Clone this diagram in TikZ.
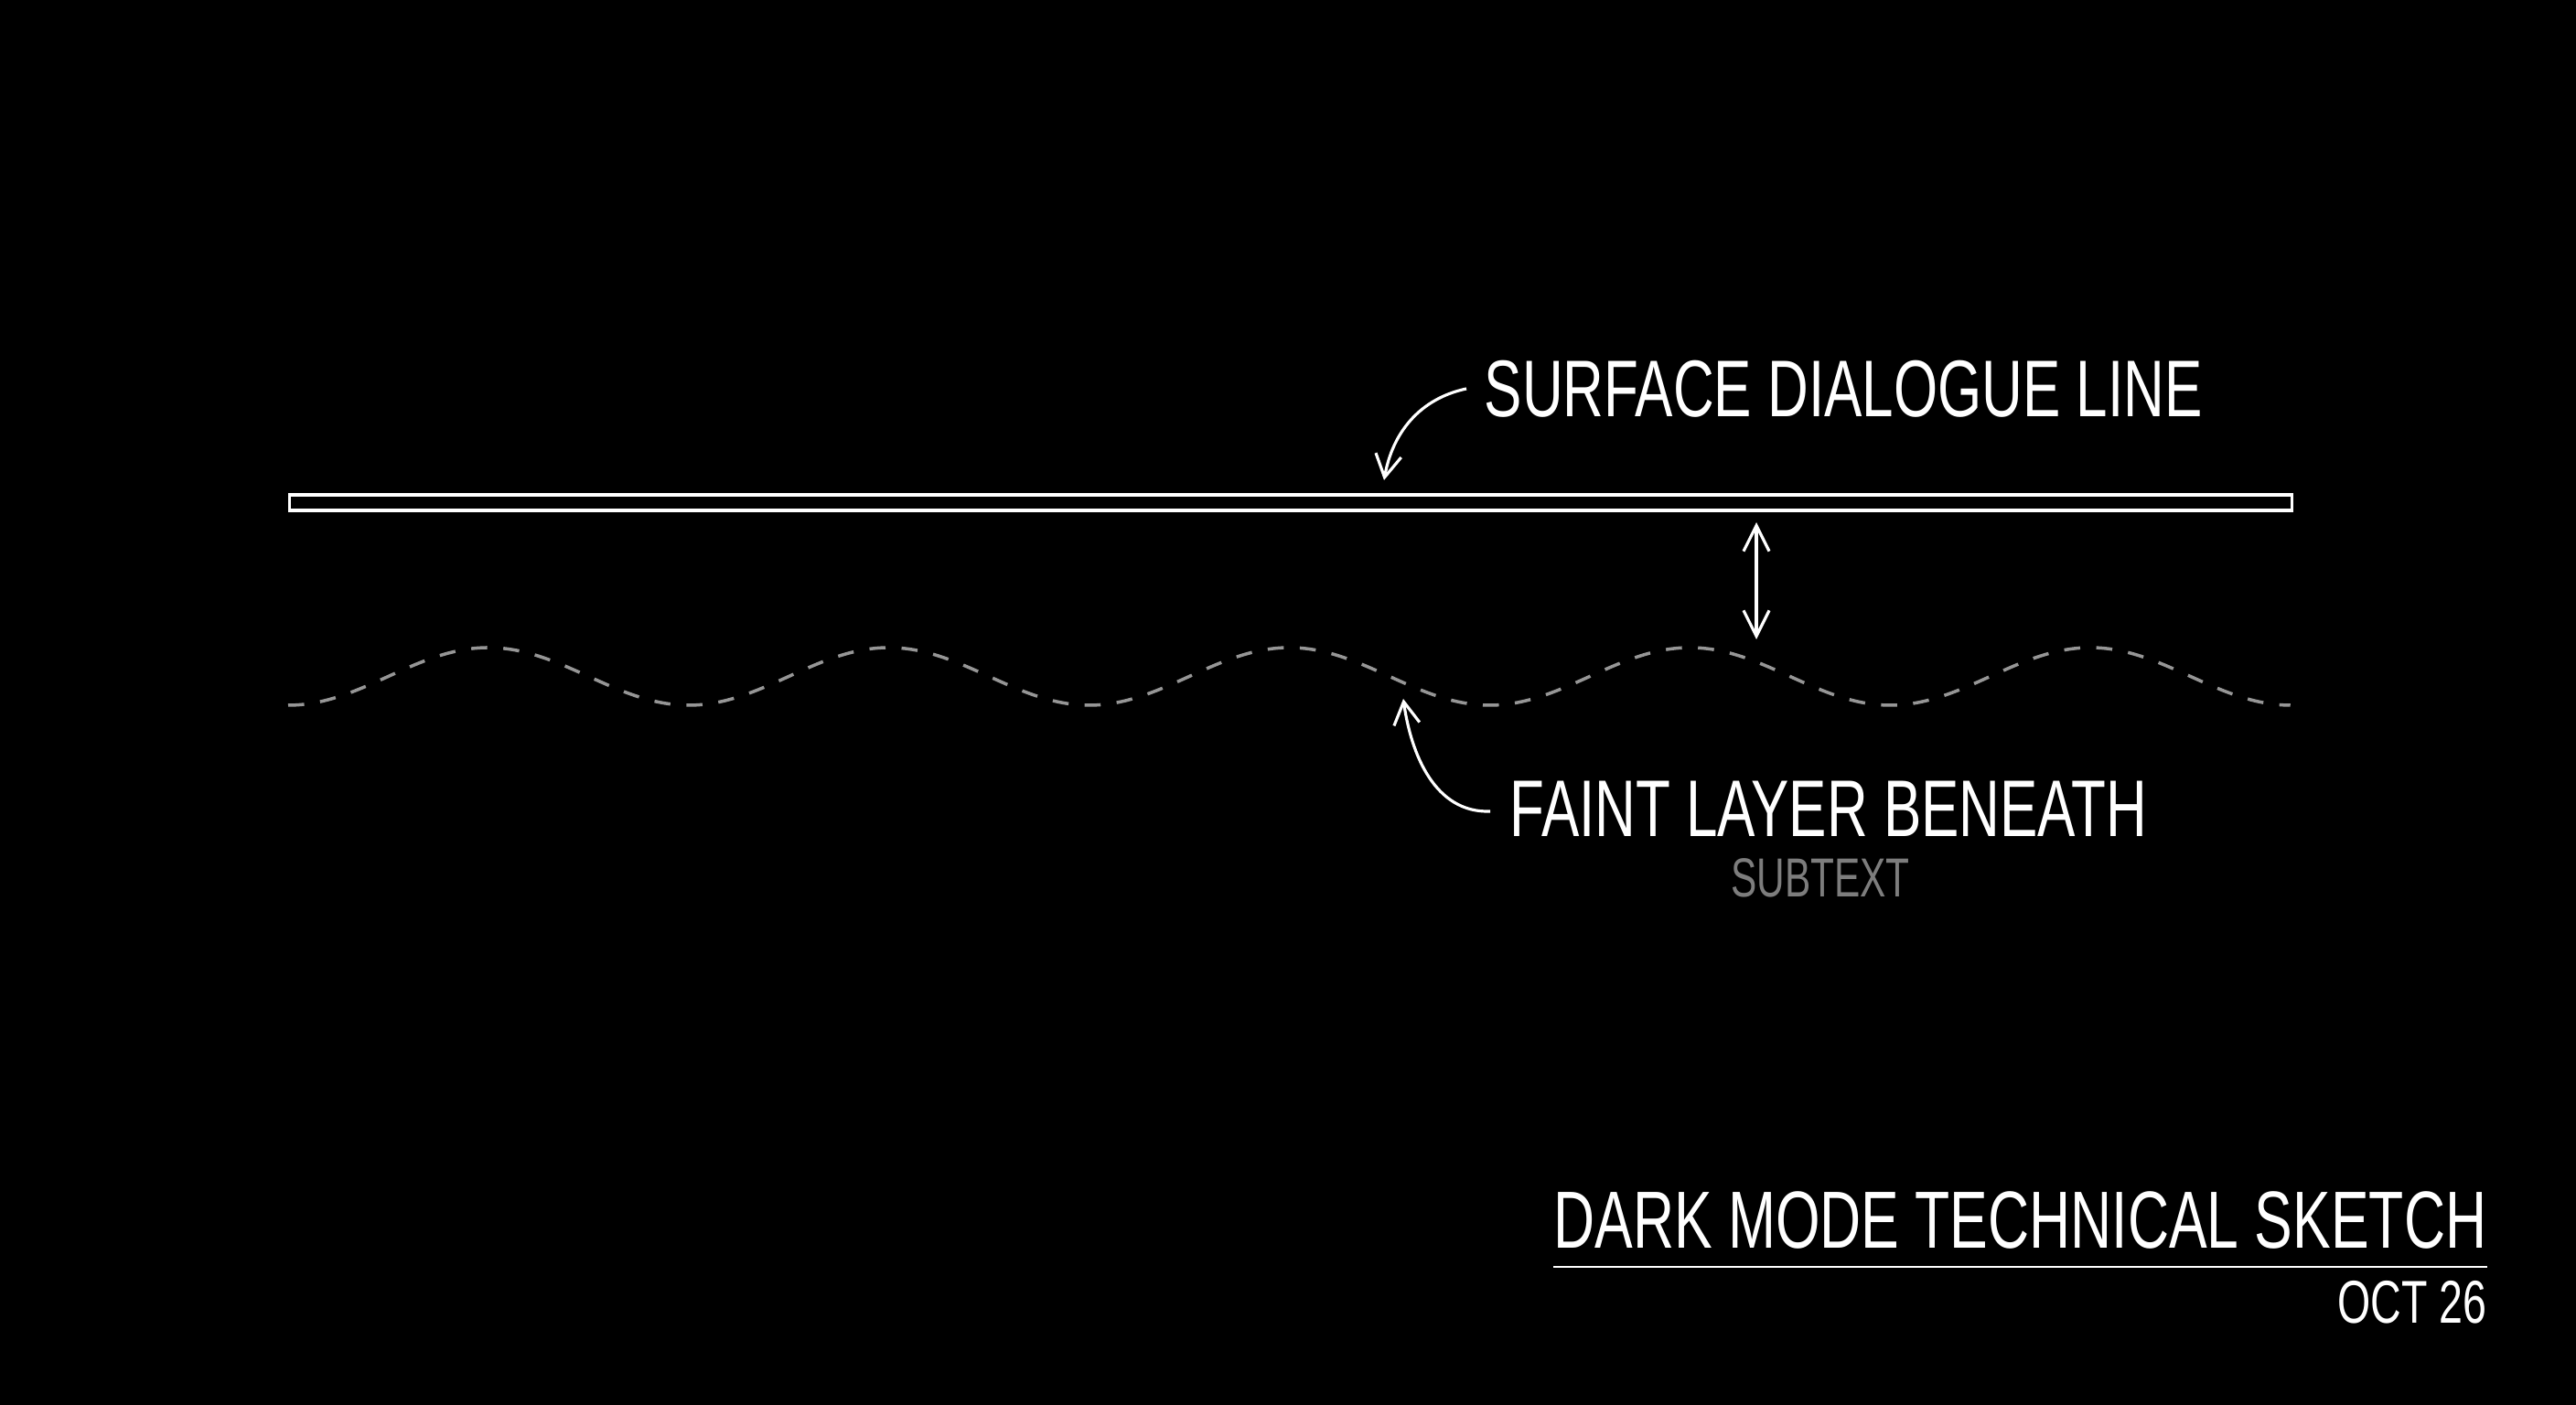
\documentclass[tikz,border=0pt]{standalone}
\usepackage{fontspec}
\setmainfont{Liberation Sans}[FakeStretch=0.705]
\usetikzlibrary{arrows.meta}
\definecolor{wavegray}{RGB}{150,150,150}
\definecolor{subgray}{RGB}{125,125,125}
\begin{document}
\begin{tikzpicture}[
  lbl/.style={text=white, inner sep=0pt, anchor=base west, font=\fontsize{25}{30}\selectfont},
  sublbl/.style={text=subgray, inner sep=0pt, anchor=base, font=\fontsize{17.1}{20}\selectfont},
  datelbl/.style={text=white, inner sep=0pt, anchor=base east, font=\fontsize{18.8}{22}\selectfont},
  titlelbl/.style={text=white, inner sep=0pt, anchor=base east, font=\fontsize{25.2}{30}\selectfont},
  surface/.style={draw=white, line width=0.9pt},
  wave/.style={draw=wavegray, line width=1pt, dash pattern=on 5pt off 5pt},
  pointer/.style={draw=white, line width=0.9pt, -{Straight Barb[length=7pt,width=8pt]}},
  gap/.style={draw=white, line width=0.9pt, {Straight Barb[length=8pt,width=8pt]}-{Straight Barb[length=8pt,width=8pt]}},
  rule/.style={draw=white, line width=0.8pt}
]
\fill[black] (0,0) rectangle (28.16,15.36);
\useasboundingbox (0,0) rectangle (28.16,15.36);

% surface bar
\node[surface, minimum width=21.89cm, minimum height=0.17cm, inner sep=0pt, anchor=north west] (bar) at (3.15,9.965) {};

% faint wave
\draw[wave] plot[domain=3.15:25.04, samples=400, smooth] (\x, {7.965-0.315*cos(deg(2*pi*(\x-3.15)/4.378))});

% labels
\node[lbl] (surf) at (16.22,10.80) {SURFACE DIALOGUE LINE};
\node[lbl] (faint) at (16.50,6.21) {FAINT LAYER BENEATH};
\node[sublbl] (sub) at (19.90,5.55) {SUBTEXT};
\node[titlelbl] (title) at (27.19,1.71) {DARK MODE TECHNICAL SKETCH};
\node[datelbl] (date) at (27.19,0.89) {OCT 26};

% coordinates for connectors
\coordinate (s1) at (16.03,11.11);
\coordinate (s2) at (15.13,10.11);
\coordinate (f1) at (16.29,6.49);
\coordinate (f2) at (15.34,7.72);
\coordinate (g1) at (19.20,9.65);
\coordinate (g2) at (19.20,8.37);
\coordinate (r1) at (16.98,1.51);
\coordinate (r2) at (27.19,1.51);

\draw[pointer] (s1) to[out=192,in=80] (s2);
\draw[pointer] (f1) to[out=182,in=-82] (f2);
\draw[gap] (g1) -- (g2);
\draw[rule] (r1) -- (r2);
\end{tikzpicture}
\end{document}
